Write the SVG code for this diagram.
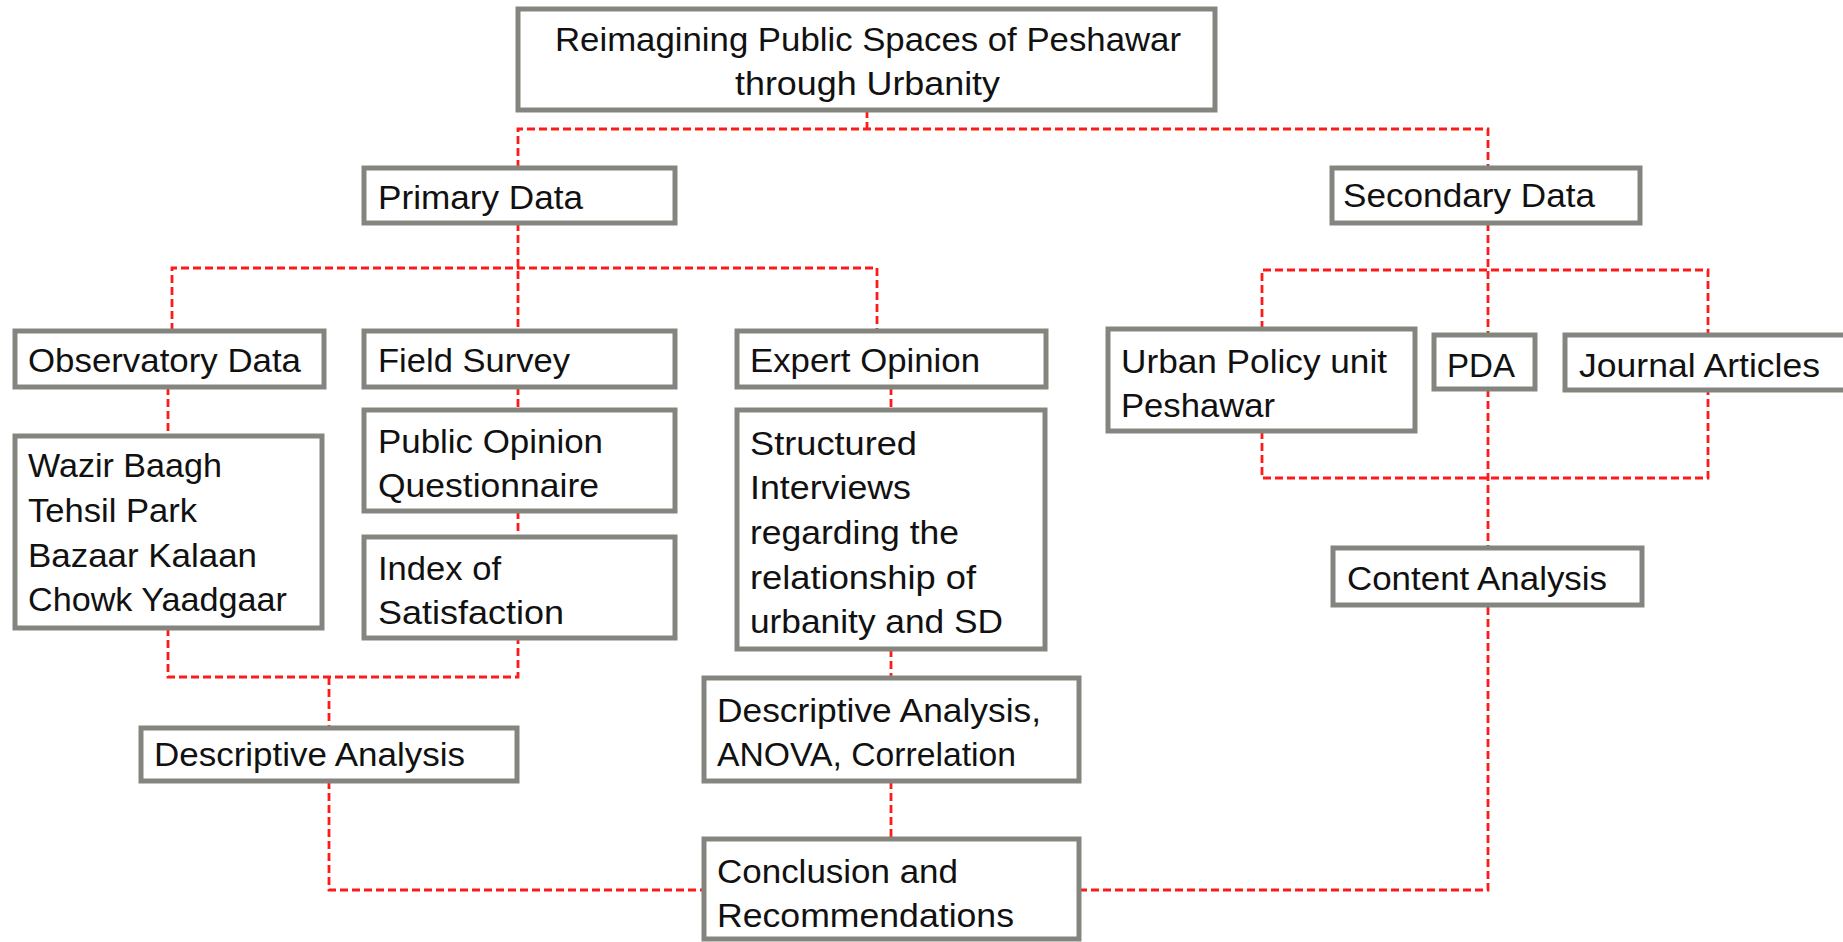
<svg xmlns="http://www.w3.org/2000/svg" width="1843" height="942" viewBox="0 0 1843 942">
  <style>
    .box { fill: #ffffff; stroke: #858580; stroke-width: 5; }
    .lbl { font-family: "Liberation Sans", Arial, sans-serif; font-size: 34px; fill: #111111; }
    .link { fill: none; stroke: #ff1a1a; stroke-width: 2.8; stroke-dasharray: 8 4; }
  </style>
  <rect width="1843" height="942" fill="#ffffff"/>

  <!-- connectors -->
  <g id="connectors">
    <path class="link" d="M867,110 V129"/>
    <path class="link" d="M518,168 V129 H1488 V168"/>
    <path class="link" d="M518,223 V331"/>
    <path class="link" d="M172,331 V268 H877 V331"/>
    <path class="link" d="M168,387 V436"/>
    <path class="link" d="M518,387 V410"/>
    <path class="link" d="M518,511 V537"/>
    <path class="link" d="M891,387 V410"/>
    <path class="link" d="M891,649 V678"/>
    <path class="link" d="M891,781 V839"/>
    <path class="link" d="M168,628 V677 H518 V638"/>
    <path class="link" d="M329,677 V728"/>
    <path class="link" d="M329,781 V890 H703"/>
    <path class="link" d="M1079,890 H1488 V605"/>
    <path class="link" d="M1488,223 V335"/>
    <path class="link" d="M1262,329 V270 H1708 V335"/>
    <path class="link" d="M1262,431 V478 H1708 V390"/>
    <path class="link" d="M1488,389 V548"/>
  </g>

  <g id="title">
    <rect class="box" x="518" y="9" width="697" height="101"/>
    <text class="lbl" x="555" y="51" textLength="626" lengthAdjust="spacingAndGlyphs">Reimagining Public Spaces of Peshawar</text>
    <text class="lbl" x="735" y="95" textLength="265" lengthAdjust="spacingAndGlyphs">through Urbanity</text>
  </g>

  <g id="primary-data">
    <rect class="box" x="364" y="168" width="311" height="55"/>
    <text class="lbl" x="378" y="209" textLength="205" lengthAdjust="spacingAndGlyphs">Primary Data</text>
  </g>

  <g id="secondary-data">
    <rect class="box" x="1332" y="168" width="308" height="55"/>
    <text class="lbl" x="1343" y="207" textLength="252" lengthAdjust="spacingAndGlyphs">Secondary Data</text>
  </g>

  <g id="observatory-data">
    <rect class="box" x="15" y="331" width="309" height="56"/>
    <text class="lbl" x="28" y="372" textLength="273" lengthAdjust="spacingAndGlyphs">Observatory Data</text>
  </g>

  <g id="field-survey">
    <rect class="box" x="364" y="331" width="311" height="56"/>
    <text class="lbl" x="378" y="372" textLength="192" lengthAdjust="spacingAndGlyphs">Field Survey</text>
  </g>

  <g id="expert-opinion">
    <rect class="box" x="737" y="331" width="309" height="56"/>
    <text class="lbl" x="750" y="372" textLength="230" lengthAdjust="spacingAndGlyphs">Expert Opinion</text>
  </g>

  <g id="urban-policy-unit">
    <rect class="box" x="1108" y="329" width="307" height="102"/>
    <text class="lbl" x="1121" y="373" textLength="266" lengthAdjust="spacingAndGlyphs">Urban Policy unit</text>
    <text class="lbl" x="1121" y="417" textLength="154" lengthAdjust="spacingAndGlyphs">Peshawar</text>
  </g>

  <g id="pda">
    <rect class="box" x="1434" y="335" width="101" height="54"/>
    <text class="lbl" x="1447" y="377" textLength="68" lengthAdjust="spacingAndGlyphs">PDA</text>
  </g>

  <g id="journal-articles">
    <rect class="box" x="1565" y="335" width="290" height="55"/>
    <text class="lbl" x="1579" y="377" textLength="241" lengthAdjust="spacingAndGlyphs">Journal Articles</text>
  </g>

  <g id="sites">
    <rect class="box" x="15" y="436" width="307" height="192"/>
    <text class="lbl" x="28" y="477" textLength="194" lengthAdjust="spacingAndGlyphs">Wazir Baagh</text>
    <text class="lbl" x="28" y="522" textLength="169" lengthAdjust="spacingAndGlyphs">Tehsil Park</text>
    <text class="lbl" x="28" y="567" textLength="229" lengthAdjust="spacingAndGlyphs">Bazaar Kalaan</text>
    <text class="lbl" x="28" y="611" textLength="259" lengthAdjust="spacingAndGlyphs">Chowk Yaadgaar</text>
  </g>

  <g id="questionnaire">
    <rect class="box" x="364" y="410" width="311" height="101"/>
    <text class="lbl" x="378" y="453" textLength="225" lengthAdjust="spacingAndGlyphs">Public Opinion</text>
    <text class="lbl" x="378" y="497" textLength="221" lengthAdjust="spacingAndGlyphs">Questionnaire</text>
  </g>

  <g id="index-of-satisfaction">
    <rect class="box" x="364" y="537" width="311" height="101"/>
    <text class="lbl" x="378" y="580" textLength="123" lengthAdjust="spacingAndGlyphs">Index of</text>
    <text class="lbl" x="378" y="624" textLength="186" lengthAdjust="spacingAndGlyphs">Satisfaction</text>
  </g>

  <g id="structured-interviews">
    <rect class="box" x="737" y="410" width="308" height="239"/>
    <text class="lbl" x="750" y="455" textLength="167" lengthAdjust="spacingAndGlyphs">Structured</text>
    <text class="lbl" x="750" y="499" textLength="161" lengthAdjust="spacingAndGlyphs">Interviews</text>
    <text class="lbl" x="750" y="544" textLength="209" lengthAdjust="spacingAndGlyphs">regarding the</text>
    <text class="lbl" x="750" y="589" textLength="226" lengthAdjust="spacingAndGlyphs">relationship of</text>
    <text class="lbl" x="750" y="633" textLength="253" lengthAdjust="spacingAndGlyphs">urbanity and SD</text>
  </g>

  <g id="descriptive-analysis-left">
    <rect class="box" x="141" y="728" width="376" height="53"/>
    <text class="lbl" x="154" y="766" textLength="311" lengthAdjust="spacingAndGlyphs">Descriptive Analysis</text>
  </g>

  <g id="descriptive-anova-correlation">
    <rect class="box" x="704" y="678" width="375" height="103"/>
    <text class="lbl" x="717" y="722" textLength="324" lengthAdjust="spacingAndGlyphs">Descriptive Analysis,</text>
    <text class="lbl" x="717" y="766" textLength="299" lengthAdjust="spacingAndGlyphs">ANOVA, Correlation</text>
  </g>

  <g id="content-analysis">
    <rect class="box" x="1333" y="548" width="309" height="57"/>
    <text class="lbl" x="1347" y="590" textLength="260" lengthAdjust="spacingAndGlyphs">Content Analysis</text>
  </g>

  <g id="conclusion">
    <rect class="box" x="704" y="839" width="375" height="100"/>
    <text class="lbl" x="717" y="883" textLength="241" lengthAdjust="spacingAndGlyphs">Conclusion and</text>
    <text class="lbl" x="717" y="927" textLength="297" lengthAdjust="spacingAndGlyphs">Recommendations</text>
  </g>
</svg>
